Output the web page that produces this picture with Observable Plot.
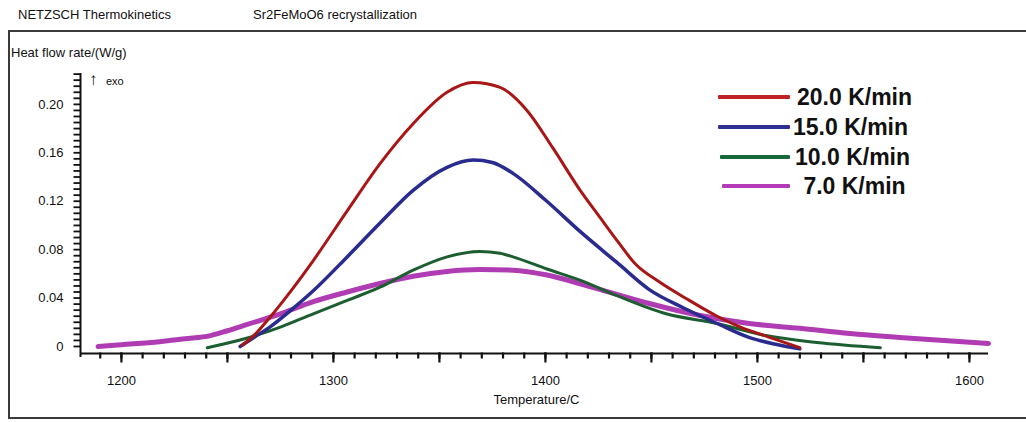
<!DOCTYPE html>
<html>
<head>
<meta charset="utf-8">
<script src="https://cdn.jsdelivr.net/npm/d3@7"></script>
<script src="https://cdn.jsdelivr.net/npm/@observablehq/plot@0.6"></script>
<style>
  html, body { margin: 0; padding: 0; background: #fff; }
  body { width: 1026px; height: 422px; position: relative; overflow: hidden; font-family: "Liberation Sans", Arial, sans-serif; color: #111; }
  .abs { position: absolute; white-space: nowrap; }
  #box { position: absolute; left: 8px; top: 30px; width: 1030px; height: 389px; border: 2px solid #3a3a3a; box-sizing: border-box; }
  #chart { position: absolute; left: 0; top: 30px; }
  #chart svg { display: block; overflow: visible; }
  .lg-line { position: absolute; height: 4px; border-radius: 1px; }
  .lg-text { position: absolute; font-weight: bold; font-size: 23px; line-height: 26px; color: #111; white-space: pre; }
</style>
</head>
<body>
<div class="abs" style="left:18px; top:7px; font-size:13px;">NETZSCH Thermokinetics</div>
<div class="abs" style="left:253px; top:7px; font-size:13px;">Sr2FeMoO6 recrystallization</div>
<div id="box"></div>
<div class="abs" style="left:11px; top:45px; font-size:13px;">Heat flow rate/(W/g)</div>
<div class="abs" style="left:89px; top:70px; font-size:17px; font-weight:bold;">&#8593;</div>
<div class="abs" style="left:106px; top:75px; font-size:11px;">exo</div>
<div id="chart"></div>
<div id="legend"></div>
<script>
// ---- data ----
const seriesLabels = ["20.0 K/min", "15.0 K/min", "10.0 K/min", " 7.0 K/min"];
const seriesColors = ["#a81616", "#2a2b8e", "#1d5e30", "#b03cb4"];
const legendColors = ["#c02226", "#2e3192", "#17683a", "#b43ab8"];

const temp20 = [1257, 1263, 1270, 1280, 1290.5, 1306.5, 1322, 1337.6, 1353.6, 1366, 1378.6, 1391.3, 1403.5, 1416, 1426, 1434, 1442, 1454, 1467, 1481, 1492, 1505, 1520];
const flow20 = [0.001, 0.010, 0.024, 0.046, 0.071, 0.112, 0.151, 0.184, 0.210, 0.218, 0.214, 0.195, 0.164, 0.130, 0.106, 0.087, 0.069, 0.053, 0.039, 0.025, 0.016, 0.008, -0.001];

const temp15 = [1256, 1263, 1270, 1280, 1290.5, 1306.5, 1322, 1337.6, 1353.6, 1366, 1375, 1384.7, 1400, 1417, 1434, 1449, 1465, 1481, 1496, 1508, 1520];
const flow15 = [0, 0.008, 0.016, 0.030, 0.046, 0.074, 0.102, 0.129, 0.148, 0.154, 0.152, 0.143, 0.121, 0.094, 0.069, 0.047, 0.032, 0.019, 0.0075, 0.002, -0.002];

const temp10 = [1240.5, 1259.4, 1275, 1290.5, 1306.5, 1322, 1337.6, 1353.6, 1369, 1378.6, 1384.7, 1400.7, 1416, 1433.7, 1457, 1481, 1504, 1528, 1558];
const flow10 = [-0.001, 0.007, 0.016, 0.027, 0.038, 0.049, 0.063, 0.074, 0.0785, 0.077, 0.074, 0.064, 0.055, 0.042, 0.027, 0.019, 0.009, 0.0033, -0.001];

const temp7 = [1189, 1200, 1218, 1230, 1242, 1250, 1259, 1275, 1290.5, 1306.5, 1322, 1337.6, 1353.6, 1369, 1384.7, 1400.7, 1416, 1426, 1449, 1473, 1496, 1520, 1543.5, 1567, 1609];
const flow7 = [0, 0.0015, 0.004, 0.0063, 0.009, 0.013, 0.018, 0.027, 0.037, 0.045, 0.052, 0.058, 0.062, 0.0635, 0.063, 0.059, 0.052, 0.047, 0.0355, 0.0256, 0.019, 0.015, 0.0107, 0.0074, 0.0025];

const xMajorTicks = [1200, 1300, 1400, 1500, 1600];
const xMidTicks = [1200, 1250, 1300, 1350, 1400, 1450, 1500, 1550, 1600];
const xMinorTicks = d3.range(1190, 1610, 10);
const yLabelTicks = [0, 0.04, 0.08, 0.12, 0.16, 0.20];
const yTickLabels = ["0", "0.04", "0.08", "0.12", "0.16", "0.20"];
const yMinorTicks = d3.range(0, 0.2251, 0.005);

const xDomain = [1180.7, 1609];
const yDomain = [-0.0058, 0.2255];

// ---- layout ----
const W = 1026, H = 392, mL = 80, mR = 38, mT = 43, mB = 69;
const pxPerX = (W - mL - mR) / (xDomain[1] - xDomain[0]);
const pxPerY = (H - mT - mB) / (yDomain[1] - yDomain[0]);
const yBelow = px => yDomain[0] - px / pxPerY;   // y value px pixels below the x axis
const xLeft = px => xDomain[0] - px / pxPerX;    // x value px pixels left of the y axis

// ---- build rows ----
const temps = [temp20, temp15, temp10, temp7];
const flows = [flow20, flow15, flow10, flow7];
const widths = [3, 3.5, 3, 5];
const rows = [];
temps.forEach((ts, i) => ts.forEach((t, j) => rows.push({series: seriesLabels[i], T: t, v: flows[i][j]})));

const lineMarks = [3, 2, 1, 0].map(i =>
  Plot.line(rows.filter(d => d.series === seriesLabels[i]), {
    x: "T", y: "v", stroke: seriesColors[i], strokeWidth: widths[i], curve: "monotone-x", strokeLinecap: "round"
  })
);

const chart = Plot.plot({
  width: W,
  height: H,
  marginLeft: mL,
  marginRight: mR,
  marginTop: mT,
  marginBottom: mB,
  style: {fontFamily: "'Liberation Sans', Arial, sans-serif", fontSize: "13px", color: "#111", background: "transparent", overflow: "visible"},
  x: {domain: xDomain, axis: null},
  y: {domain: yDomain, axis: null},
  marks: [
    ...lineMarks,
    // x ticks (below axis)
    Plot.link(xMinorTicks, {x1: d => d, x2: d => d, y1: yBelow(-1), y2: yBelow(5), stroke: "#111", strokeWidth: 2.2}),
    Plot.link(xMidTicks, {x1: d => d, x2: d => d, y1: yBelow(-1), y2: yBelow(9), stroke: "#111", strokeWidth: 2.2}),
    Plot.text(xMajorTicks, {x: d => d, y: yDomain[0], dy: 27, text: d => String(d), fontSize: 13, fill: "#111"}),
    // y ticks (left of axis)
    Plot.link(yMinorTicks, {x1: xLeft(7), x2: xDomain[0], y1: d => d, y2: d => d, stroke: "#111", strokeWidth: 1.8}),
    Plot.text(yLabelTicks, {x: xDomain[0], y: d => d, text: (d, i) => yTickLabels[i], textAnchor: "end", dx: -17, fontSize: 13, fill: "#111"}),
    // axis lines
    Plot.ruleY([yDomain[0]], {x1: xDomain[0], x2: xDomain[1], stroke: "#111", strokeWidth: 2}),
    Plot.ruleX([xDomain[0]], {y1: yBelow(4), y2: yDomain[1], stroke: "#111", strokeWidth: 2}),
    Plot.text(["Temperature/C"], {frameAnchor: "bottom", dy: 50, fontSize: 13, fill: "#111", dx: 2})
  ]
});
document.getElementById("chart").appendChild(chart);

// ---- legend (HTML overlay) ----
const legend = document.getElementById("legend");
const legendRowsY = [97, 127, 157, 186];
const legendLineX = [[718, 790], [718, 790], [720, 790], [722, 790]];
const legendTextX = [797, 793, 795, 797];
seriesLabels.forEach((lab, i) => {
  const ln = document.createElement("div");
  ln.className = "lg-line";
  ln.style.left = legendLineX[i][0] + "px";
  ln.style.width = (legendLineX[i][1] - legendLineX[i][0]) + "px";
  ln.style.top = (legendRowsY[i] - 2) + "px";
  ln.style.background = legendColors[i];
  legend.appendChild(ln);
  const tx = document.createElement("div");
  tx.className = "lg-text";
  tx.style.left = legendTextX[i] + "px";
  tx.style.top = (legendRowsY[i] - 13) + "px";
  tx.textContent = lab;
  legend.appendChild(tx);
});
</script>
</body>
</html>
